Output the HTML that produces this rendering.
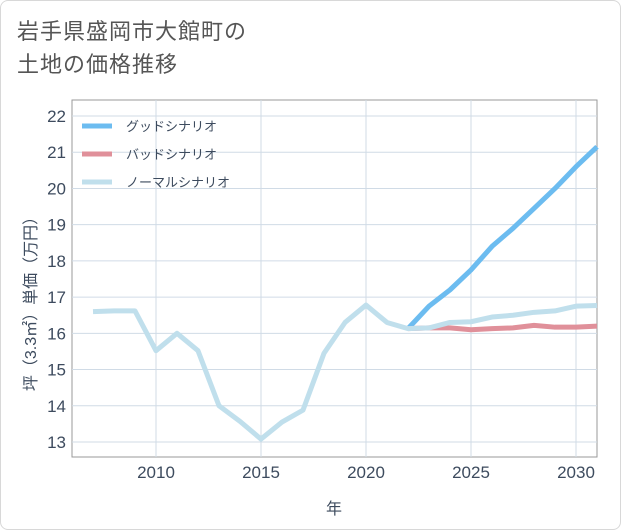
<!DOCTYPE html>
<html><head><meta charset="utf-8"><style>
body{margin:0;background:#fff;}
#card{position:relative;width:619px;height:528px;border:1px solid #d8d8d8;border-radius:8px;background:#fff;overflow:hidden;font-family:"Liberation Sans","Noto Sans CJK JP",sans-serif;}
#title{position:absolute;left:16px;top:14px;font-size:22px;line-height:33px;color:#555;letter-spacing:1px;}
svg text{font-family:"Liberation Sans","Noto Sans CJK JP",sans-serif;}
</style></head><body>
<div id="card">
<div id="title">岩手県盛岡市大館町の<br>土地の価格推移</div>
<svg id="chart" width="621" height="530" style="position:absolute;left:-1px;top:-1px"></svg>
</div>
<script>
const years=[2007,2008,2009,2010,2011,2012,2013,2014,2015,2016,2017,2018,2019,2020,2021,2022,2023,2024,2025,2026,2027,2028,2029,2030,2031];
const normalVals=[16.6,16.62,16.62,15.52,16.0,15.52,14.0,13.57,13.08,13.55,13.88,15.45,16.3,16.78,16.3,16.13,16.15,16.3,16.32,16.45,16.5,16.58,16.62,16.75,16.77];
const futureYears=[2022,2023,2024,2025,2026,2027,2028,2029,2030,2031];
const goodVals=[16.13,16.75,17.2,17.75,18.4,18.9,19.45,20.0,20.6,21.15];
const badVals=[16.13,16.15,16.15,16.1,16.13,16.15,16.22,16.17,16.17,16.2];
const yTicks=[13,14,15,16,17,18,19,20,21,22];
const xTicks=[2010,2015,2020,2025,2030];
const legendLabels=["グッドシナリオ","バッドシナリオ","ノーマルシナリオ"];
const legendColors=["#6cbcf0","#e0909a","#c0dfec"];

const NS="http://www.w3.org/2000/svg";
const svg=document.getElementById('chart');
const L=72,R=597,T=100,B=457;
const TXT='#3d4b5e';
const x=v=>156+(v-2010)*21;
const y=v=>442-(v-13)*36.22;
function mk(t,a){const e=document.createElementNS(NS,t);for(const k in a)e.setAttribute(k,a[k]);svg.appendChild(e);return e;}
const frame=mk('rect',{x:L,y:T,width:R-L,height:B-T,fill:'none',stroke:'#999','stroke-width':1});


yTicks.forEach(v=>{
 const g=mk('line',{x1:L,x2:R,y1:y(v),y2:y(v),stroke:'#d0dbe6','stroke-width':1});
 
 
 const t=mk('text',{x:L-6,y:y(v)+6,'text-anchor':'end','font-size':17,fill:TXT});
 t.textContent=v;
 
 
});
xTicks.forEach(v=>{
 const g=mk('line',{x1:x(v),x2:x(v),y1:T,y2:B,stroke:'#d0dbe6','stroke-width':1});
 
 
 const t=mk('text',{x:x(v),y:B+21,'text-anchor':'middle','font-size':17,fill:TXT});
 t.textContent=v;
 
 
});
const xt=mk('text',{x:334,y:514,'text-anchor':'middle','font-size':16,fill:TXT});
xt.textContent='年';


const yt=mk('text',{x:0,y:0,'text-anchor':'middle','font-size':16,fill:TXT,transform:'translate(36,300) rotate(-90)'});
yt.textContent='坪（3.3㎡）単価（万円）';


function line(xs,vs,c,name){
 const p=mk('polyline',{points:xs.map((a,i)=>x(a)+','+y(vs[i])).join(' '),fill:'none',stroke:c,'stroke-width':5,'stroke-linejoin':'round'});
 
 
}
line(futureYears,goodVals,legendColors[0],'good-scenario-line');
line(futureYears,badVals,legendColors[1],'bad-scenario-line');
line(years,normalVals,legendColors[2],'normal-scenario-line');
legendLabels.forEach((lab,i)=>{
 const yy=126+i*28;
 const l=mk('line',{x1:82,x2:112,y1:yy,y2:yy,stroke:legendColors[i],'stroke-width':5});
 
 
 const t=mk('text',{x:126,y:yy+5,'font-size':13,fill:TXT});
 t.textContent=lab;
 
 
});
</script>
</body></html>
